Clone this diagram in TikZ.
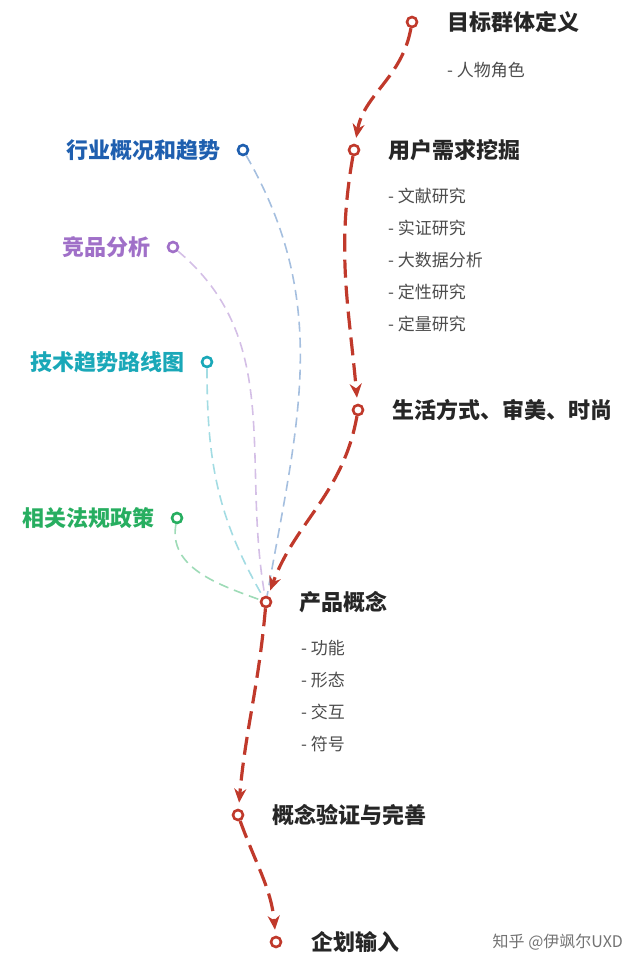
\documentclass[tikz,border=0pt]{standalone}
\usepackage{fontspec}
\setmainfont{Noto Sans CJK SC}
\usetikzlibrary{arrows.meta}
\definecolor{flowred}{HTML}{C0392B}
\definecolor{ind}{HTML}{1F5FAF}
\definecolor{cmp}{HTML}{A070C8}
\definecolor{tech}{HTML}{1AA8B8}
\definecolor{law}{HTML}{27AE60}

\begin{document}
\begin{tikzpicture}[
	x = 0.5pt, y = -0.5pt,
	> = {Stealth[length=7pt,width=6pt]},
	P/.style={circle, draw=flowred, fill=white, line width=1.3pt, inner sep=0pt, minimum size=5pt},  % main step
	S/.style={circle, draw=#1, fill=white, line width=1.3pt, inner sep=0pt, minimum size=5pt},       % source
	T/.style={font=\bfseries\fontsize{11}{13}\selectfont, text=black!85, anchor=west},
	D/.style={font=\fontsize{8.5}{10}\selectfont, text=black!70, anchor=west},
	flow/.style={draw=flowred, line width=1.6pt, dash pattern=on 9pt off 4pt, ->, shorten >=3pt},
	feed/.style={draw=#1, line width=0.8pt, dash pattern=on 5pt off 3pt},
	]
	\useasboundingbox (0,0) rectangle (640,967);

	% Main steps
	\node[P] (A) at (412,22) {};
	\node[P] (B) at (354,150) {};
	\node[P] (C) at (358,410) {};
	\node[P] (E) at (266,602) {};
	\node[P] (F) at (238,815) {};
	\node[P] (G) at (276,942) {};

	\node[T] at (440,22) {目标群体定义};
	\node[D] at (440,70) {- 人物角色};
	\node[T] at (381,150) {用户需求挖掘};
	\foreach \t [count=\i] in {文献研究,实证研究,大数据分析,定性研究,定量研究}
		\node[D] at (381,164+32*\i) {- \t};
	\node[T] at (385,410) {生活方式、审美、时尚};
	\node[T] at (292,602) {产品概念};
	\foreach \t [count=\i] in {功能,形态,交互,符号}
		\node[D] at (294,616+32*\i) {- \t};
	\node[T] at (265,815) {概念验证与完善};
	\node[T] at (304,942) {企划输入};

	% Sources
	\node[S=ind] (s1) at (243,150) {};
	\node[S=cmp] (s2) at (173,247) {};
	\node[S=tech] (s3) at (207,362) {};
	\node[S=law] (s4) at (177,518) {};
	\node[T, anchor=east, text=ind] at (228,150) {行业概况和趋势};
	\node[T, anchor=east, text=cmp] at (158,247) {竞品分析};
	\node[T, anchor=east, text=tech] at (192,362) {技术趋势路线图};
	\node[T, anchor=east, text=law] at (162,518) {相关法规政策};

	% Paths
	\path[feed=ind!40] (s1) edge[out=-60,in=80] (E);
	\path[feed=cmp!45] (s2) edge[out=-40,in=100] (E);
	\path[feed=tech!40] (s3) edge[out=-90,in=120] (E);
	\path[feed=law!45] (s4) edge[out=-100,in=160] (E);

	\path[flow] (A) edge[out=-100,in=80] (B);
	\path[flow] (B) edge[out=-100,in=95] (C);
	\path[flow] (C) edge[out=-100,in=70] (E);
	\path[flow] (E) edge[out=-95,in=85] (F);
	\path[flow] (F) edge[out=-70,in=95] (G);

	\node[anchor=east, font=\fontsize{8}{10}\selectfont, text=black!55] at (630,942) {知乎 @伊飒尔UXD};
\end{tikzpicture}
\end{document}
